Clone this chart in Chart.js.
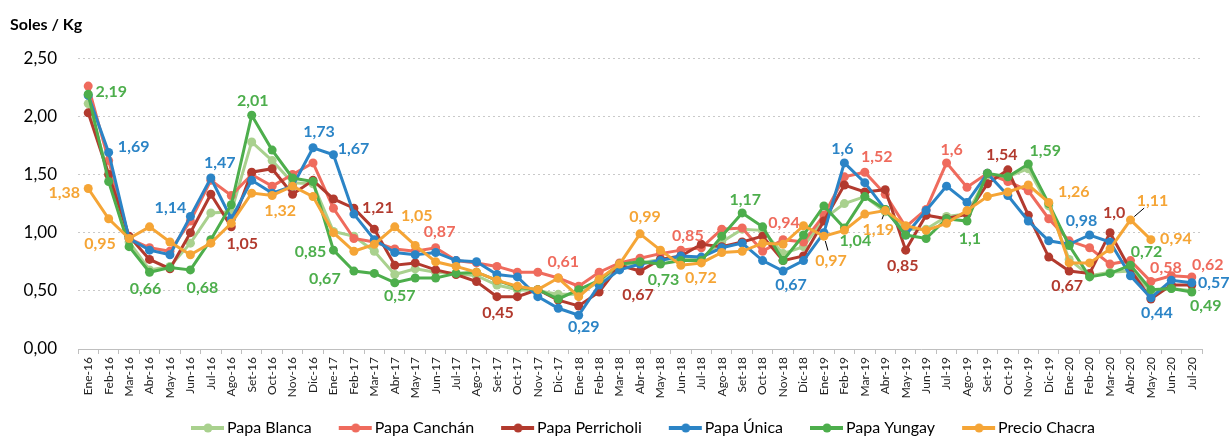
<!DOCTYPE html>
<html lang="es">
  <head>
    <meta charset="UTF-8">
    <title>Precio de la papa</title>
    <style>
      html, body { margin: 0; padding: 0; background: #fff; }
      #wrap { width: 1232px; height: 436px; }
    </style>
  </head>
  <body>
    <div id="wrap"><canvas id="myChart"></canvas></div>
    <script src="https://cdn.jsdelivr.net/npm/chart.js"></script>
    <script>

// categorias (meses)
const meses = [
  'Ene-16','Feb-16','Mar-16','Abr-16','May-16','Jun-16','Jul-16','Ago-16','Set-16','Oct-16','Nov-16','Dic-16',
  'Ene-17','Feb-17','Mar-17','Abr-17','May-17','Jun-17','Jul-17','Ago-17','Set-17','Oct-17','Nov-17','Dic-17',
  'Ene-18','Feb-18','Mar-18','Abr-18','May-18','Jun-18','Jul-18','Ago-18','Set-18','Oct-18','Nov-18','Dic-18',
  'Ene-19','Feb-19','Mar-19','Abr-19','May-19','Jun-19','Jul-19','Ago-19','Set-19','Oct-19','Nov-19','Dic-19',
  'Ene-20','Feb-20','Mar-20','Abr-20','May-20','Jun-20','Jul-20'
];

// series (soles / kg)
const papaBlanca = [
  2.11, 1.50, 0.92, 0.68, 0.71, 0.91, 1.17, 1.18, 1.78, 1.62, 1.43, 1.42,
  1.01, 0.97, 0.84, 0.64, 0.69, 0.66, 0.65, 0.63, 0.55, 0.51, 0.50, 0.47,
  0.47, 0.58, 0.72, 0.74, 0.77, 0.78, 0.78, 0.92, 1.03, 1.02, 0.82, 0.88,
  1.12, 1.25, 1.31, 1.18, 1.03, 1.03, 1.14, 1.16, 1.49, 1.48, 1.55, 1.23,
  0.77, 0.63, 0.66, 0.67, 0.50, 0.52, 0.50
];
const papaCanchan = [
  2.26, 1.62, 0.95, 0.87, 0.84, 1.10, 1.45, 1.32, 1.50, 1.40, 1.50, 1.60,
  1.21, 0.95, 0.92, 0.86, 0.84, 0.87, 0.76, 0.74, 0.71, 0.66, 0.66, 0.61,
  0.54, 0.66, 0.74, 0.78, 0.82, 0.85, 0.87, 1.03, 1.04, 0.84, 0.94, 0.92,
  1.15, 1.48, 1.52, 1.33, 1.05, 1.20, 1.60, 1.39, 1.51, 1.44, 1.36, 1.12,
  0.93, 0.87, 0.73, 0.76, 0.58, 0.63, 0.62
];
const papaPerricholi = [
  2.03, 1.50, 0.97, 0.77, 0.69, 1.00, 1.33, 1.05, 1.52, 1.55, 1.33, 1.45,
  1.29, 1.21, 1.03, 0.72, 0.74, 0.68, 0.64, 0.58, 0.45, 0.45, 0.51, 0.42,
  0.37, 0.49, 0.72, 0.67, 0.77, 0.80, 0.90, 0.88, 0.92, 0.97, 0.76, 0.80,
  1.10, 1.41, 1.35, 1.37, 0.85, 1.15, 1.12, 1.16, 1.42, 1.54, 1.15, 0.79,
  0.67, 0.65, 1.00, 0.68, 0.43, 0.55, 0.55
];
const papaUnica = [
  2.18, 1.69, 0.95, 0.85, 0.81, 1.14, 1.47, 1.12, 1.45, 1.34, 1.40, 1.73,
  1.67, 1.16, 0.94, 0.83, 0.81, 0.83, 0.76, 0.75, 0.64, 0.62, 0.45, 0.35,
  0.29, 0.55, 0.68, 0.73, 0.76, 0.80, 0.79, 0.87, 0.91, 0.76, 0.67, 0.76,
  1.00, 1.60, 1.43, 1.20, 0.98, 1.19, 1.40, 1.26, 1.51, 1.32, 1.10, 0.93,
  0.90, 0.98, 0.92, 0.63, 0.44, 0.59, 0.57
];
const papaYungay = [
  2.19, 1.44, 0.88, 0.66, 0.70, 0.68, 0.94, 1.24, 2.01, 1.71, 1.47, 1.44,
  0.85, 0.67, 0.65, 0.57, 0.61, 0.61, 0.65, 0.66, 0.59, 0.53, 0.51, 0.43,
  0.51, 0.59, 0.73, 0.75, 0.73, 0.76, 0.76, 0.97, 1.17, 1.05, 0.76, 0.98,
  1.23, 1.04, 1.31, 1.20, 0.98, 0.95, 1.12, 1.10, 1.51, 1.48, 1.59, 1.25,
  0.89, 0.62, 0.65, 0.72, 0.51, 0.52, 0.49
];
const precioChacra = [
  1.38, 1.12, 0.95, 1.05, 0.92, 0.81, 0.91, 1.08, 1.34, 1.32, 1.40, 1.31,
  1.00, 0.84, 0.90, 1.05, 0.89, 0.75, 0.71, 0.66, 0.59, 0.54, 0.51, 0.61,
  0.45, 0.60, 0.73, 0.99, 0.85, 0.72, 0.74, 0.83, 0.84, 0.91, 0.90, 1.06,
  0.97, 1.02, 1.16, 1.19, 1.06, 1.02, 1.08, 1.19, 1.31, 1.35, 1.41, 1.26,
  0.74, 0.74, 0.86, 1.11, 0.94, null, null
];

// ticks del eje y
const ticksY = [0, 0.5, 1, 1.5, 2, 2.5];

const colores = ['#A9D18E', '#EF6B5D', '#B23A2E', '#2B84C6', '#4DAE4C', '#F5A536'];
const nombres = ['Papa Blanca', 'Papa Canchán', 'Papa Perricholi', 'Papa Única', 'Papa Yungay', 'Precio Chacra'];
const series = [papaBlanca, papaCanchan, papaPerricholi, papaUnica, papaYungay, precioChacra];

// etiquetas de datos: serie, indice, texto; dx/dy = desplazamiento del texto
const etiquetas = [
  {s: 4, i: 0, t: '2,19', dx: 23, dy: -2},
  {s: 4, i: 3, t: '0,66', dx: -4, dy: 17},
  {s: 4, i: 5, t: '0,68', dx: 12, dy: 18},
  {s: 4, i: 8, t: '2,01', dx: 1, dy: -14},
  {s: 4, i: 12, t: '0,85', dx: -23, dy: 2},
  {s: 4, i: 13, t: '0,67', dx: -29, dy: 8},
  {s: 4, i: 15, t: '0,57', dx: 5, dy: 13},
  {s: 4, i: 28, t: '0,73', dx: 3, dy: 16},
  {s: 4, i: 32, t: '1,17', dx: 3, dy: -13},
  {s: 4, i: 37, t: '1,04', dx: 11, dy: 13},
  {s: 4, i: 43, t: '1,1', dx: 3, dy: 18},
  {s: 4, i: 46, t: '1,59', dx: 17, dy: -13},
  {s: 4, i: 51, t: '0,72', dx: 16, dy: -13},
  {s: 4, i: 54, t: '0,49', dx: 14, dy: 14},

  {s: 1, i: 17, t: '0,87', dx: 4, dy: -16},
  {s: 1, i: 23, t: '0,61', dx: 5, dy: -16},
  {s: 1, i: 29, t: '0,85', dx: 7, dy: -14},
  {s: 1, i: 34, t: '0,94', dx: 1, dy: -17},
  {s: 1, i: 38, t: '1,52', dx: 12, dy: -15},
  {s: 1, i: 42, t: '1,6', dx: 5, dy: -13},
  {s: 1, i: 52, t: '0,58', dx: 15, dy: -14},
  {s: 1, i: 54, t: '0,62', dx: 16, dy: -12},

  {s: 2, i: 7, t: '1,05', dx: 11, dy: 17},
  {s: 2, i: 13, t: '1,21', dx: 24, dy: 0},
  {s: 2, i: 20, t: '0,45', dx: 1, dy: 16},
  {s: 2, i: 27, t: '0,67', dx: -2, dy: 24},
  {s: 2, i: 40, t: '0,85', dx: -3, dy: 16},
  {s: 2, i: 45, t: '1,54', dx: -6, dy: -15},
  {s: 2, i: 48, t: '0,67', dx: -2, dy: 15},
  {s: 2, i: 50, t: '1,0', dx: 4, dy: -20},

  {s: 3, i: 1, t: '1,69', dx: 25, dy: -6},
  {s: 3, i: 5, t: '1,14', dx: -20, dy: -9},
  {s: 3, i: 6, t: '1,47', dx: 9, dy: -15},
  {s: 3, i: 11, t: '1,73', dx: 6, dy: -16},
  {s: 3, i: 12, t: '1,67', dx: 20, dy: -6},
  {s: 3, i: 24, t: '0,29', dx: 5, dy: 12},
  {s: 3, i: 34, t: '0,67', dx: 8, dy: 14},
  {s: 3, i: 37, t: '1,6', dx: -2, dy: -14},
  {s: 3, i: 49, t: '0,98', dx: -8, dy: -14},
  {s: 3, i: 52, t: '0,44', dx: 6, dy: 15},
  {s: 3, i: 54, t: '0,57', dx: 22, dy: 0},

  {s: 5, i: 0, t: '1,38', dx: -24, dy: 4},
  {s: 5, i: 2, t: '0,95', dx: -29, dy: 5},
  {s: 5, i: 9, t: '1,32', dx: 8, dy: 15},
  {s: 5, i: 15, t: '1,05', dx: 22, dy: -11},
  {s: 5, i: 27, t: '0,99', dx: 5, dy: -17},
  {s: 5, i: 29, t: '0,72', dx: 20, dy: 13},
  {s: 5, i: 36, t: '0,97', dx: 7, dy: 25, guia: true},
  {s: 5, i: 39, t: '1,19', dx: -7, dy: 19, guia: true},
  {s: 5, i: 47, t: '1,26', dx: 25, dy: -11},
  {s: 5, i: 51, t: '1,11', dx: 22, dy: -19, guia: true},
  {s: 5, i: 52, t: '0,94', dx: 25, dy: -1}
];

const FUENTE = 'Lato';

// simbolo de leyenda: linea con punto (pegado a la derecha, junto al texto)
function simbolo(color) {
  const c = document.createElement('canvas');
  c.width = 46; c.height = 10;
  const g = c.getContext('2d');
  g.strokeStyle = color;
  g.lineWidth = 4;
  g.beginPath(); g.moveTo(12, 5); g.lineTo(45, 5); g.stroke();
  g.fillStyle = color;
  g.beginPath(); g.arc(29, 5, 4.5, 0, Math.PI * 2); g.fill();
  return c;
}

// dibuja las etiquetas de datos encima de las lineas
const etiquetasPlugin = {
  id: 'etiquetas',
  afterDatasetsDraw(chart) {
    const ctx = chart.ctx;
    ctx.save();
    ctx.font = 'bold 16px ' + FUENTE;
    ctx.textAlign = 'center';
    ctx.textBaseline = 'middle';
    etiquetas.forEach(e => {
      const pt = chart.getDatasetMeta(e.s).data[e.i];
      if (!pt) return;
      const x = pt.x + e.dx, y = pt.y + e.dy;
      if (e.guia) {
        const len = Math.hypot(e.dx, e.dy);
        const ux = e.dx / len, uy = e.dy / len;
        ctx.strokeStyle = '#000';
        ctx.lineWidth = 1;
        ctx.beginPath();
        ctx.moveTo(pt.x + ux * 5, pt.y + uy * 5);
        ctx.lineTo(x - ux * 11, y - uy * 11);
        ctx.stroke();
      }
      ctx.fillStyle = colores[e.s];
      ctx.fillText(e.t, x, y);
    });
    ctx.restore();
  }
};

const data = {
  labels: meses,
  datasets: series.map((serie, k) => ({
    label: nombres[k],
    data: serie,
    borderColor: colores[k],
    backgroundColor: colores[k],
    pointBackgroundColor: colores[k],
    pointBorderColor: colores[k],
    borderWidth: 3,
    pointRadius: 4.5,
    pointBorderWidth: 0,
    tension: 0,
    order: 5 - k,
    simbolo: simbolo(colores[k])
  }))
};

const config = {
  type: 'line',
  data,
  options: {
    responsive: true,
    maintainAspectRatio: false,
    animation: false,
    layout: { padding: { left: 10, right: 30, top: 0, bottom: -10 } },
    plugins: {
      title: {
        display: true,
        text: 'Soles / Kg',
        align: 'start',
        color: '#000',
        font: { family: FUENTE, size: 16, weight: 'bold' },
        padding: { top: 15, bottom: 24 }
      },
      legend: {
        position: 'bottom',
        fullSize: false,
        labels: {
          usePointStyle: true,
          pointStyleWidth: 34,
          padding: 21,
          color: '#000',
          font: { family: FUENTE, size: 16 },
          sort: (a, b) => a.datasetIndex - b.datasetIndex,
          generateLabels(chart) {
            const items = Chart.defaults.plugins.legend.labels.generateLabels(chart);
            items.forEach(it => { it.pointStyle = chart.data.datasets[it.datasetIndex].simbolo; });
            return items;
          }
        }
      },
      tooltip: { enabled: false }
    },
    scales: {
      x: {
        offset: true,
        afterFit(scale) { scale.height = 50; },
        grid: {
          offset: true,
          drawOnChartArea: false,
          drawTicks: true,
          tickLength: 5,
          color: '#BFBFBF'
        },
        border: { display: true, color: '#BFBFBF', width: 1 },
        ticks: {
          autoSkip: false,
          minRotation: 90,
          maxRotation: 90,
          padding: 3,
          color: '#222',
          font: { family: FUENTE, size: 12 }
        }
      },
      y: {
        min: 0,
        max: 2.5,
        afterFit(scale) { scale.width = 68; },
        afterBuildTicks(scale) { scale.ticks = ticksY.map(v => ({ value: v })); },
        grid: { color: '#C9C9C9', lineWidth: 1, drawTicks: false },
        border: { display: false, dash: [2, 3] },
        ticks: {
          padding: 21,
          color: '#000',
          font: { family: FUENTE, size: 17 },
          callback: v => v.toFixed(2).replace('.', ',')
        }
      }
    }
  },
  plugins: [etiquetasPlugin]
};

const myChart = new Chart(document.getElementById('myChart'), config);

</script>
  </body>
</html>
